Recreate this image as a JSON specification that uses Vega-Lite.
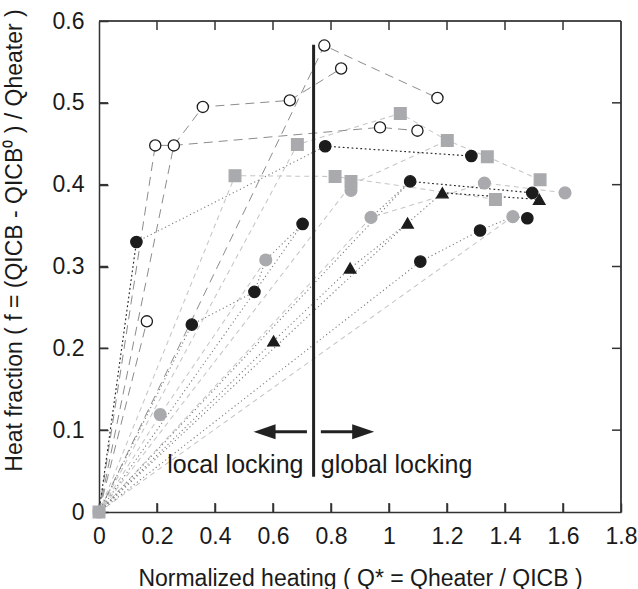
{
  "$schema": "https://vega.github.io/schema/vega-lite/v6.json",
  "width": 522,
  "height": 491,
  "autosize": {"type": "none"},
  "padding": {"left": 99, "top": 21, "right": 17, "bottom": 77},
  "background": "white",
  "config": {
    "view": {"stroke": null},
    "font": "Liberation Sans"
  },
  "datasets": {
    "frame": [
      {"x": 0, "x2": 1.8, "y": 0.6, "y2": 0.6},
      {"x": 1.8, "x2": 1.8, "y": 0, "y2": 0.6}
    ],
    "xticks": [
      {"x": 0.2, "y": 0}, {"x": 0.4, "y": 0}, {"x": 0.6, "y": 0}, {"x": 0.8, "y": 0},
      {"x": 1, "y": 0}, {"x": 1.2, "y": 0}, {"x": 1.4, "y": 0}, {"x": 1.6, "y": 0},
      {"x": 0.2, "y": 0.6}, {"x": 0.4, "y": 0.6}, {"x": 0.6, "y": 0.6}, {"x": 0.8, "y": 0.6},
      {"x": 1, "y": 0.6}, {"x": 1.2, "y": 0.6}, {"x": 1.4, "y": 0.6}, {"x": 1.6, "y": 0.6}
    ],
    "yticks": [
      {"x": 0, "y": 0.1}, {"x": 0, "y": 0.2}, {"x": 0, "y": 0.3}, {"x": 0, "y": 0.4}, {"x": 0, "y": 0.5},
      {"x": 1.8, "y": 0.1}, {"x": 1.8, "y": 0.2}, {"x": 1.8, "y": 0.3}, {"x": 1.8, "y": 0.4}, {"x": 1.8, "y": 0.5}
    ],
    "lines": [
      {"seg": "f1", "style": "frame", "o": 0, "x": 0, "y": 0.6},
      {"seg": "f1", "style": "frame", "o": 1, "x": 1.8, "y": 0.6},
      {"seg": "f1", "style": "frame", "o": 2, "x": 1.8, "y": 0},
      {"seg": "a1", "style": "open", "o": 0, "x": 0, "y": 0},
      {"seg": "a1", "style": "open", "o": 1, "x": 0.165, "y": 0.233},
      {"seg": "a2", "style": "open", "o": 0, "x": 0, "y": 0},
      {"seg": "a2", "style": "open", "o": 1, "x": 0.194, "y": 0.448},
      {"seg": "a2", "style": "open", "o": 2, "x": 0.258, "y": 0.448},
      {"seg": "a3", "style": "open", "o": 0, "x": 0, "y": 0},
      {"seg": "a3", "style": "open", "o": 1, "x": 0.258, "y": 0.448},
      {"seg": "a3", "style": "open", "o": 2, "x": 0.358, "y": 0.495},
      {"seg": "a3", "style": "open", "o": 3, "x": 0.658, "y": 0.503},
      {"seg": "a3", "style": "open", "o": 4, "x": 0.835, "y": 0.542},
      {"seg": "a4", "style": "open", "o": 0, "x": 0.258, "y": 0.448},
      {"seg": "a4", "style": "open", "o": 1, "x": 0.969, "y": 0.47},
      {"seg": "a4", "style": "open", "o": 2, "x": 1.098, "y": 0.466},
      {"seg": "a5", "style": "open", "o": 0, "x": 0, "y": 0},
      {"seg": "a5", "style": "open", "o": 1, "x": 0.777, "y": 0.57},
      {"seg": "a5", "style": "open", "o": 2, "x": 1.167, "y": 0.506},
      {"seg": "g1", "style": "gdash", "o": 0, "x": 0, "y": 0},
      {"seg": "g1", "style": "gdash", "o": 1, "x": 0.469, "y": 0.411},
      {"seg": "g1", "style": "gdash", "o": 2, "x": 0.814, "y": 0.41},
      {"seg": "g1", "style": "gdash", "o": 3, "x": 1.367, "y": 0.382},
      {"seg": "g2", "style": "gdash", "o": 0, "x": 0, "y": 0},
      {"seg": "g2", "style": "gdash", "o": 1, "x": 0.684, "y": 0.449},
      {"seg": "g2", "style": "gdash", "o": 2, "x": 1.039, "y": 0.487},
      {"seg": "g2", "style": "gdash", "o": 3, "x": 1.201, "y": 0.454},
      {"seg": "g2", "style": "gdash", "o": 4, "x": 1.339, "y": 0.434},
      {"seg": "g2", "style": "gdash", "o": 5, "x": 1.521, "y": 0.406},
      {"seg": "g3", "style": "gdash", "o": 0, "x": 0, "y": 0},
      {"seg": "g3", "style": "gdash", "o": 1, "x": 0.211, "y": 0.119},
      {"seg": "g3", "style": "gdash", "o": 2, "x": 0.575, "y": 0.308},
      {"seg": "g4", "style": "gdash", "o": 0, "x": 0, "y": 0},
      {"seg": "g4", "style": "gdash", "o": 1, "x": 0.869, "y": 0.4},
      {"seg": "g4", "style": "gdash", "o": 2, "x": 1.201, "y": 0.454},
      {"seg": "g5", "style": "gdash", "o": 0, "x": 0, "y": 0},
      {"seg": "g5", "style": "gdash", "o": 1, "x": 0.938, "y": 0.36},
      {"seg": "g5", "style": "gdash", "o": 2, "x": 1.329, "y": 0.402},
      {"seg": "g5", "style": "gdash", "o": 3, "x": 1.607, "y": 0.39},
      {"seg": "g6", "style": "gdash", "o": 0, "x": 0, "y": 0},
      {"seg": "g6", "style": "gdash", "o": 1, "x": 1.427, "y": 0.361},
      {"seg": "d1", "style": "ldot", "o": 0, "x": 0, "y": 0},
      {"seg": "d1", "style": "ldot", "o": 1, "x": 0.32, "y": 0.229},
      {"seg": "d1", "style": "ldot", "o": 2, "x": 0.536, "y": 0.269},
      {"seg": "d1", "style": "ldot", "o": 3, "x": 0.575, "y": 0.308},
      {"seg": "d1", "style": "ldot", "o": 4, "x": 0.702, "y": 0.352},
      {"seg": "d2", "style": "ldot", "o": 0, "x": 0, "y": 0},
      {"seg": "d2", "style": "ldot", "o": 1, "x": 0.602, "y": 0.209},
      {"seg": "d2", "style": "ldot", "o": 2, "x": 0.866, "y": 0.298},
      {"seg": "d2", "style": "ldot", "o": 3, "x": 1.064, "y": 0.353},
      {"seg": "d2", "style": "ldot", "o": 4, "x": 1.184, "y": 0.39},
      {"seg": "d3", "style": "ldot", "o": 0, "x": 0, "y": 0},
      {"seg": "d3", "style": "ldot", "o": 1, "x": 1.064, "y": 0.353},
      {"seg": "d4", "style": "ldot", "o": 0, "x": 0.938, "y": 0.36},
      {"seg": "d4", "style": "ldot", "o": 1, "x": 1.073, "y": 0.404},
      {"seg": "d5", "style": "ldot", "o": 0, "x": 0, "y": 0},
      {"seg": "d5", "style": "ldot", "o": 1, "x": 1.108, "y": 0.306},
      {"seg": "d5", "style": "ldot", "o": 2, "x": 1.314, "y": 0.344},
      {"seg": "d5", "style": "ldot", "o": 3, "x": 1.427, "y": 0.361},
      {"seg": "d5", "style": "ldot", "o": 4, "x": 1.477, "y": 0.359},
      {"seg": "d6", "style": "ldot", "o": 0, "x": 0.129, "y": 0.33},
      {"seg": "d6", "style": "ldot", "o": 1, "x": 0.78, "y": 0.447},
      {"seg": "d7", "style": "ldot", "o": 0, "x": 0, "y": 0},
      {"seg": "d7", "style": "ldot", "o": 1, "x": 0.702, "y": 0.352},
      {"seg": "d8", "style": "ldot", "o": 0, "x": 0, "y": 0},
      {"seg": "d8", "style": "ldot", "o": 1, "x": 1.073, "y": 0.404},
      {"seg": "b1", "style": "bdot", "o": 0, "x": 0, "y": 0},
      {"seg": "b1", "style": "bdot", "o": 1, "x": 0.129, "y": 0.33},
      {"seg": "b2", "style": "bdot", "o": 0, "x": 0.78, "y": 0.447},
      {"seg": "b2", "style": "bdot", "o": 1, "x": 1.284, "y": 0.435},
      {"seg": "b3", "style": "bdot", "o": 0, "x": 1.073, "y": 0.404},
      {"seg": "b3", "style": "bdot", "o": 1, "x": 1.494, "y": 0.39},
      {"seg": "b4", "style": "bdot", "o": 0, "x": 1.184, "y": 0.39},
      {"seg": "b4", "style": "bdot", "o": 1, "x": 1.518, "y": 0.382}
    ],
    "points": [
      {"kind": "gci", "x": 0, "y": 0},
      {"kind": "gci", "x": 0.211, "y": 0.119},
      {"kind": "gci", "x": 0.575, "y": 0.308},
      {"kind": "gci", "x": 0.869, "y": 0.393},
      {"kind": "gci", "x": 0.938, "y": 0.36},
      {"kind": "gci", "x": 1.329, "y": 0.402},
      {"kind": "gci", "x": 1.427, "y": 0.361},
      {"kind": "gci", "x": 1.607, "y": 0.39},
      {"kind": "gsq", "x": 0, "y": 0},
      {"kind": "gsq", "x": 0.469, "y": 0.411},
      {"kind": "gsq", "x": 0.684, "y": 0.449},
      {"kind": "gsq", "x": 0.814, "y": 0.41},
      {"kind": "gsq", "x": 0.869, "y": 0.404},
      {"kind": "gsq", "x": 1.039, "y": 0.487},
      {"kind": "gsq", "x": 1.201, "y": 0.454},
      {"kind": "gsq", "x": 1.339, "y": 0.434},
      {"kind": "gsq", "x": 1.367, "y": 0.382},
      {"kind": "gsq", "x": 1.521, "y": 0.406},
      {"kind": "black", "x": 0.129, "y": 0.33},
      {"kind": "black", "x": 0.32, "y": 0.229},
      {"kind": "black", "x": 0.536, "y": 0.269},
      {"kind": "black", "x": 0.702, "y": 0.352},
      {"kind": "black", "x": 0.78, "y": 0.447},
      {"kind": "black", "x": 1.284, "y": 0.435},
      {"kind": "black", "x": 1.073, "y": 0.404},
      {"kind": "black", "x": 1.494, "y": 0.39},
      {"kind": "black", "x": 1.108, "y": 0.306},
      {"kind": "black", "x": 1.314, "y": 0.344},
      {"kind": "black", "x": 1.477, "y": 0.359},
      {"kind": "tri", "x": 0.602, "y": 0.209},
      {"kind": "tri", "x": 0.866, "y": 0.298},
      {"kind": "tri", "x": 1.064, "y": 0.353},
      {"kind": "tri", "x": 1.184, "y": 0.39},
      {"kind": "tri", "x": 1.518, "y": 0.382},
      {"kind": "open", "x": 0.165, "y": 0.233},
      {"kind": "open", "x": 0.194, "y": 0.448},
      {"kind": "open", "x": 0.258, "y": 0.448},
      {"kind": "open", "x": 0.358, "y": 0.495},
      {"kind": "open", "x": 0.658, "y": 0.503},
      {"kind": "open", "x": 0.777, "y": 0.57},
      {"kind": "open", "x": 0.835, "y": 0.542},
      {"kind": "open", "x": 0.969, "y": 0.47},
      {"kind": "open", "x": 1.098, "y": 0.466},
      {"kind": "open", "x": 1.167, "y": 0.506}
    ],
    "divider": [{"x": 0.74, "y": 0.043, "y2": 0.571}],
    "arrows": [
      {"dir": "left", "x": 0.717, "x2": 0.571, "y": 0.098},
      {"dir": "right", "x": 0.765, "x2": 0.911, "y": 0.098}
    ],
    "labels": [
      {"side": "local", "label": "local locking", "x": 0.705, "y": 0.048},
      {"side": "global", "label": "global locking", "x": 0.765, "y": 0.048}
    ]
  },
  "layer": [
    {
      "data": {"name": "lines"},
      "mark": {"type": "line", "strokeCap": "butt"},
      "encoding": {
        "x": {
          "field": "x", "type": "quantitative",
          "scale": {"domain": [0, 1.8], "nice": false, "zero": false},
          "axis": {
            "orient": "bottom",
            "values": [0, 0.2, 0.4, 0.6, 0.8, 1, 1.2, 1.4, 1.6, 1.8],
            "format": "~g",
            "grid": false,
            "domainColor": "#333333",
            "domainWidth": 1.5,
            "tickColor": "#333333",
            "tickWidth": 1.5,
            "tickSize": -9,
            "labelFont": "Liberation Sans",
            "labelFontSize": 23,
            "labelColor": "#1a1a1a",
            "labelFlush": false,
            "labelOverlap": false,
            "labelPadding": 22,
            "title": "Normalized heating ( Q* = Qheater / QICB )",
            "titleFont": "Liberation Sans",
            "titleFontSize": 23,
            "titleFontWeight": "normal",
            "titleColor": "#1a1a1a",
            "titleY": 73,
            "titleBaseline": "alphabetic"
          }
        },
        "y": {
          "field": "y", "type": "quantitative",
          "scale": {"domain": [0, 0.6], "nice": false, "zero": false},
          "axis": {
            "orient": "left",
            "values": [0, 0.1, 0.2, 0.3, 0.4, 0.5, 0.6],
            "format": "~g",
            "grid": false,
            "domainColor": "#333333",
            "domainWidth": 1.5,
            "tickColor": "#333333",
            "tickWidth": 1.5,
            "tickSize": -9,
            "labelFont": "Liberation Sans",
            "labelFontSize": 23,
            "labelColor": "#1a1a1a",
            "labelFlush": false,
            "labelOverlap": false,
            "labelPadding": 24,
            "title": "Heat fraction ( f = (QICB - QICB⁰ ) / Qheater )",
            "titleFont": "Liberation Sans",
            "titleFontSize": 23,
            "titleFontWeight": "normal",
            "titleColor": "#1a1a1a",
            "titleX": -78,
            "titleY": 219,
            "titleAngle": 270,
            "titleAlign": "center",
            "titleBaseline": "alphabetic"
          }
        },
        "detail": {"field": "seg", "type": "nominal"},
        "order": {"field": "o", "type": "quantitative"},
        "color": {
          "field": "style", "type": "nominal", "legend": null,
          "scale": {"domain": ["open", "gdash", "ldot", "bdot", "frame"], "range": ["#8c8c8c", "#c6c6c6", "#7d7d7d", "#262626", "#333333"]}
        },
        "strokeDash": {
          "field": "style", "type": "nominal", "legend": null,
          "scale": {"domain": ["open", "gdash", "ldot", "bdot", "frame"], "range": [[9, 6], [5, 4], [1.2, 2.8], [1.8, 2.6], [1, 0]]}
        },
        "strokeWidth": {
          "field": "style", "type": "ordinal", "legend": null,
          "scale": {"domain": ["open", "gdash", "ldot", "bdot", "frame"], "range": [1, 1.2, 1.2, 2.1, 1.5]}
        }
      }
    },
    {
      "data": {"name": "frame"},
      "mark": {"type": "rule", "color": "#333333", "strokeWidth": 1.5},
      "encoding": {
        "x": {"field": "x", "type": "quantitative", "scale": {"domain": [0, 1.8], "nice": false, "zero": false}, "axis": null},
        "x2": {"field": "x2"},
        "y": {"field": "y", "type": "quantitative", "scale": {"domain": [0, 0.6], "nice": false, "zero": false}, "axis": null},
        "y2": {"field": "y2"}
      }
    },
    {
      "data": {"name": "xticks"},
      "mark": {"type": "tick", "orient": "vertical", "size": 18, "thickness": 1.5, "color": "#333333", "opacity": 1, "clip": true},
      "encoding": {
        "x": {"field": "x", "type": "quantitative", "scale": {"domain": [0, 1.8], "nice": false, "zero": false}, "axis": null},
        "y": {"field": "y", "type": "quantitative", "scale": {"domain": [0, 0.6], "nice": false, "zero": false}, "axis": null}
      }
    },
    {
      "data": {"name": "yticks"},
      "mark": {"type": "tick", "orient": "horizontal", "size": 18, "thickness": 1.5, "color": "#333333", "opacity": 1, "clip": true},
      "encoding": {
        "x": {"field": "x", "type": "quantitative", "scale": {"domain": [0, 1.8], "nice": false, "zero": false}, "axis": null},
        "y": {"field": "y", "type": "quantitative", "scale": {"domain": [0, 0.6], "nice": false, "zero": false}, "axis": null}
      }
    },
    {
      "data": {"name": "divider"},
      "mark": {"type": "rule", "color": "#222222", "strokeWidth": 3},
      "encoding": {
        "x": {"field": "x", "type": "quantitative", "scale": {"domain": [0, 1.8], "nice": false, "zero": false}, "axis": null},
        "y": {"field": "y", "type": "quantitative", "scale": {"domain": [0, 0.6], "nice": false, "zero": false}, "axis": null},
        "y2": {"field": "y2"}
      }
    },
    {
      "data": {"name": "points"},
      "mark": {"type": "point", "filled": true, "strokeWidth": 1.3, "opacity": 1},
      "encoding": {
        "x": {"field": "x", "type": "quantitative", "scale": {"domain": [0, 1.8], "nice": false, "zero": false}, "axis": null},
        "y": {"field": "y", "type": "quantitative", "scale": {"domain": [0, 0.6], "nice": false, "zero": false}, "axis": null},
        "shape": {"field": "kind", "type": "nominal", "legend": null,
          "scale": {"domain": ["open", "black", "tri", "gsq", "gci"], "range": ["circle", "circle", "triangle-up", "square", "circle"]}},
        "fill": {"field": "kind", "type": "nominal", "legend": null,
          "scale": {"domain": ["open", "black", "tri", "gsq", "gci"], "range": ["#ffffff", "#1c1c1c", "#1c1c1c", "#a9aaad", "#a9aaad"]}},
        "stroke": {"field": "kind", "type": "nominal", "legend": null,
          "scale": {"domain": ["open", "black", "tri", "gsq", "gci"], "range": ["#1c1c1c", "#1c1c1c", "#1c1c1c", "#a9aaad", "#a9aaad"]}},
        "size": {"field": "kind", "type": "ordinal", "legend": null,
          "scale": {"domain": ["open", "black", "tri", "gsq", "gci"], "range": [125, 140, 180, 215, 135]}}
      }
    },
    {
      "data": {"name": "arrows"},
      "mark": {"type": "rule", "color": "#222222", "strokeWidth": 3},
      "encoding": {
        "x": {"field": "x", "type": "quantitative", "scale": {"domain": [0, 1.8], "nice": false, "zero": false}, "axis": null},
        "x2": {"field": "x2"},
        "y": {"field": "y", "type": "quantitative", "scale": {"domain": [0, 0.6], "nice": false, "zero": false}, "axis": null}
      }
    },
    {
      "data": {"name": "arrows"},
      "transform": [{"filter": "datum.dir === 'left'"}],
      "mark": {"type": "point", "filled": true, "color": "#222222", "opacity": 1, "size": 484, "shape": "M -1 0 L 1 -0.68 L 1 0.68 Z"},
      "encoding": {
        "x": {"field": "x2", "type": "quantitative", "scale": {"domain": [0, 1.8], "nice": false, "zero": false}, "axis": null},
        "y": {"field": "y", "type": "quantitative", "scale": {"domain": [0, 0.6], "nice": false, "zero": false}, "axis": null}
      }
    },
    {
      "data": {"name": "arrows"},
      "transform": [{"filter": "datum.dir === 'right'"}],
      "mark": {"type": "point", "filled": true, "color": "#222222", "opacity": 1, "size": 484, "shape": "M 1 0 L -1 -0.68 L -1 0.68 Z"},
      "encoding": {
        "x": {"field": "x2", "type": "quantitative", "scale": {"domain": [0, 1.8], "nice": false, "zero": false}, "axis": null},
        "y": {"field": "y", "type": "quantitative", "scale": {"domain": [0, 0.6], "nice": false, "zero": false}, "axis": null}
      }
    },
    {
      "data": {"name": "labels"},
      "transform": [{"filter": "datum.side === 'local'"}],
      "mark": {"type": "text", "align": "right", "baseline": "alphabetic", "fontSize": 25, "color": "#1a1a1a", "font": "Liberation Sans"},
      "encoding": {
        "x": {"field": "x", "type": "quantitative", "scale": {"domain": [0, 1.8], "nice": false, "zero": false}, "axis": null},
        "y": {"field": "y", "type": "quantitative", "scale": {"domain": [0, 0.6], "nice": false, "zero": false}, "axis": null},
        "text": {"field": "label"}
      }
    },
    {
      "data": {"name": "labels"},
      "transform": [{"filter": "datum.side === 'global'"}],
      "mark": {"type": "text", "align": "left", "baseline": "alphabetic", "fontSize": 25, "color": "#1a1a1a", "font": "Liberation Sans"},
      "encoding": {
        "x": {"field": "x", "type": "quantitative", "scale": {"domain": [0, 1.8], "nice": false, "zero": false}, "axis": null},
        "y": {"field": "y", "type": "quantitative", "scale": {"domain": [0, 0.6], "nice": false, "zero": false}, "axis": null},
        "text": {"field": "label"}
      }
    }
  ],
  "resolve": {"scale": {"x": "independent", "y": "independent"}}
}
